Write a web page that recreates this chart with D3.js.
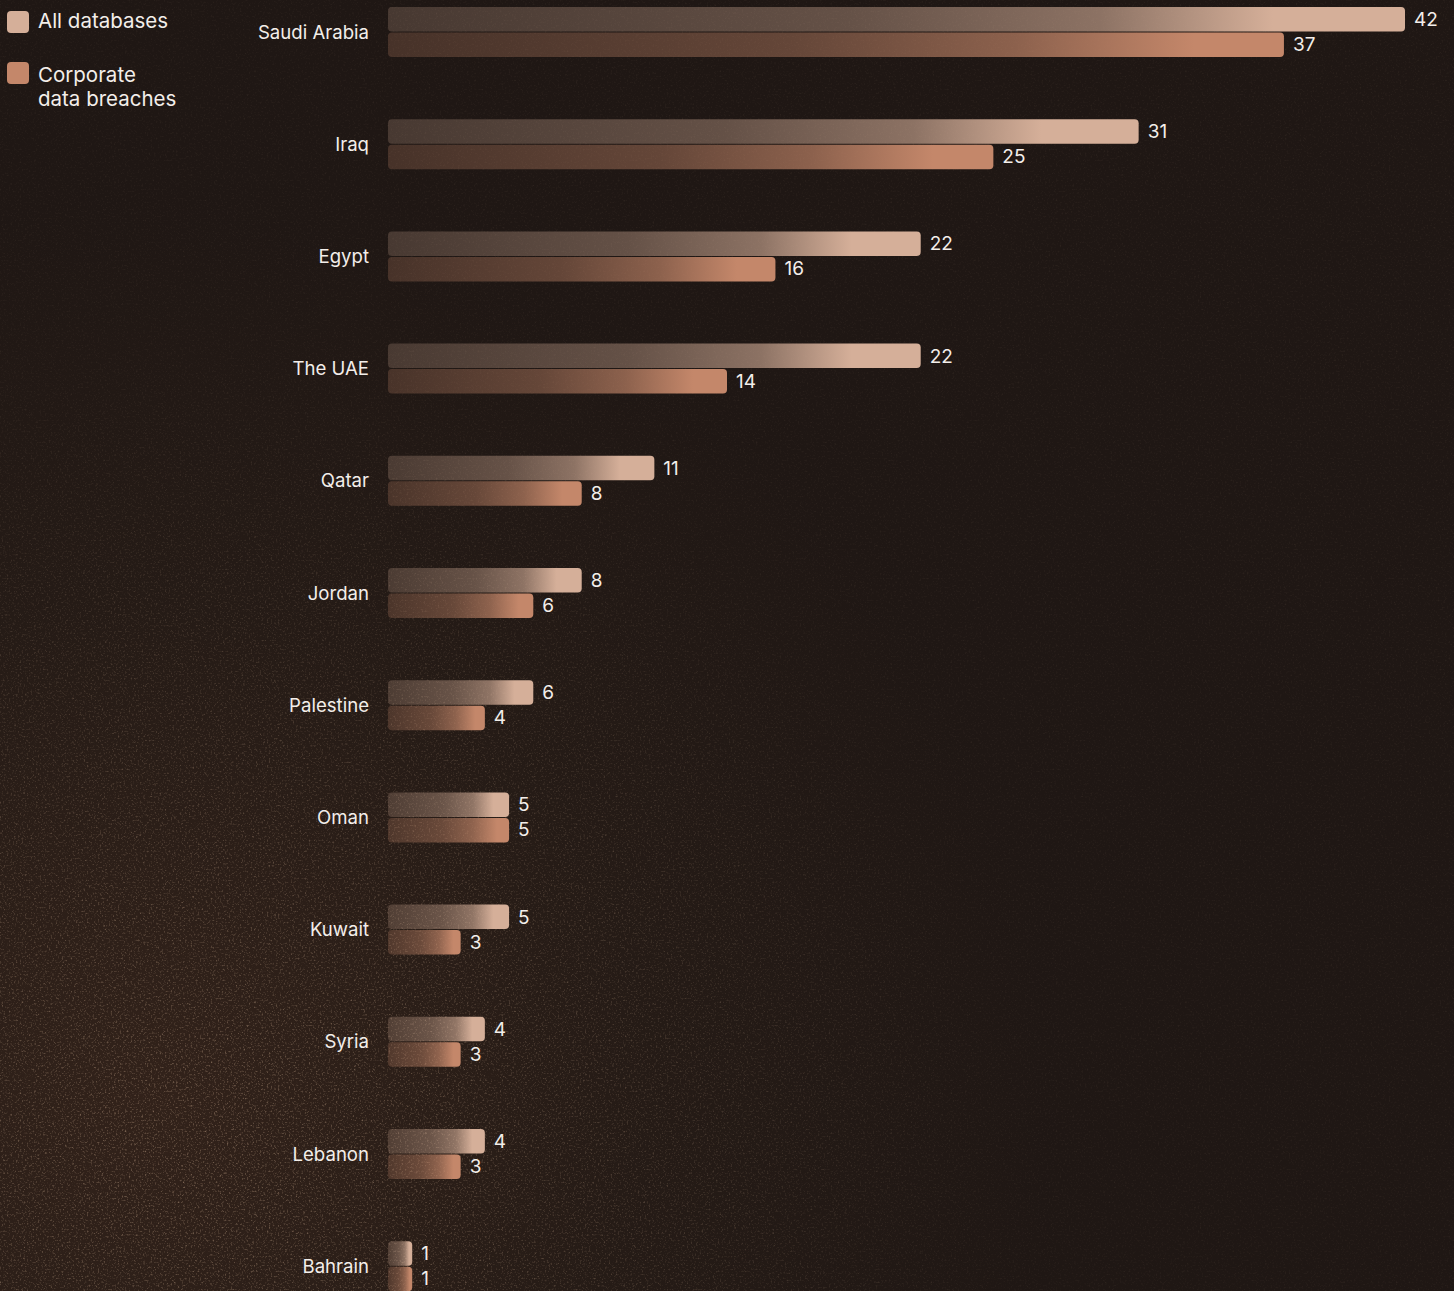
<!DOCTYPE html>
<html>
<head>
<meta charset="utf-8">
<script src="https://cdn.jsdelivr.net/npm/d3@7"></script>
<style>
  html, body { margin: 0; padding: 0; background: #201814; }
  svg { display: block; }
  text { font-family: Inter, "Noto Sans", sans-serif; }
</style>
</head>
<body>
<svg id="chart" width="1454" height="1291"></svg>
<script>
const countries = ["Saudi Arabia", "Iraq", "Egypt", "The UAE", "Qatar", "Jordan", "Palestine", "Oman", "Kuwait", "Syria", "Lebanon", "Bahrain"];
const allDatabases = [42, 31, 22, 22, 11, 8, 6, 5, 5, 4, 4, 1];
const corporateBreaches = [37, 25, 16, 14, 8, 6, 4, 5, 3, 3, 3, 1];
const seriesNames = ["All databases", "Corporate\ndata breaches"];
const seriesKeys = ["all", "corp"];

const W = 1454, H = 1291;
const svg = d3.select("#chart");
const defs = svg.append("defs");

// Background
const bg = defs.append("radialGradient").attr("id", "bgGrad")
  .attr("gradientUnits", "userSpaceOnUse").attr("cx", 150).attr("cy", 1100).attr("r", 900);
bg.append("stop").attr("offset", 0).attr("stop-color", "#32221a");
bg.append("stop").attr("offset", 0.55).attr("stop-color", "#251b16");
bg.append("stop").attr("offset", 1).attr("stop-color", "#1f1714");
svg.append("rect").attr("width", W).attr("height", H).attr("fill", "url(#bgGrad)");

// subtle grain texture
const f = defs.append("filter").attr("id", "grain").attr("x", 0).attr("y", 0).attr("width", "100%").attr("height", "100%");
f.append("feTurbulence").attr("type", "fractalNoise").attr("baseFrequency", 0.55).attr("numOctaves", 2).attr("seed", 3).attr("result", "n");
f.append("feColorMatrix").attr("in", "n").attr("type", "matrix")
  .attr("values", "0 0 0 0 0.75  0 0 0 0 0.52  0 0 0 0 0.35  0 0 0 2.2 -1.2");
const mask = defs.append("radialGradient").attr("id", "grainMask")
  .attr("gradientUnits", "userSpaceOnUse").attr("cx", 200).attr("cy", 1150).attr("r", 800);
mask.append("stop").attr("offset", 0).attr("stop-color", "#fff").attr("stop-opacity", 0.95);
mask.append("stop").attr("offset", 1).attr("stop-color", "#fff").attr("stop-opacity", 0.15);
defs.append("mask").attr("id", "gm").append("rect").attr("width", W).attr("height", H).attr("fill", "url(#grainMask)");
svg.append("rect").attr("width", W).attr("height", H).attr("filter", "url(#grain)").attr("mask", "url(#gm)").attr("opacity", 0.6);

// Bar gradients
const colors = { all: "#d5af99", corp: "#c4876a" };
function grad(id, c, stops) {
  const g = defs.append("linearGradient").attr("id", id).attr("x1", 0).attr("x2", 1).attr("y1", 0).attr("y2", 0);
  stops.forEach(([o, a]) => g.append("stop").attr("offset", o).attr("stop-color", c).attr("stop-opacity", a));
}
grad("g-all", colors.all, [[0, 0.22], [0.45, 0.38], [0.7, 0.6], [0.87, 1], [1, 1]]);
grad("g-corp", colors.corp, [[0, 0.24], [0.45, 0.42], [0.7, 0.66], [0.9, 1], [1, 1]]);

// Scales
const x = d3.scaleLinear().domain([0, 42]).range([388, 1405]);
const step = 112.2;
const y = d3.scaleBand().domain(countries).range([7, 7 + countries.length * step]).padding(0);
const ySub = d3.scaleBand().domain(seriesKeys).range([0, 50]).padding(0);

const data = countries.map((c, i) => ({ country: c, all: allDatabases[i], corp: corporateBreaches[i] }));

const groups = svg.append("g").selectAll("g").data(data).join("g")
  .attr("transform", d => `translate(0,${y(d.country)})`);

groups.append("text")
  .attr("x", 369).attr("y", 24.5)
  .attr("text-anchor", "end").attr("dominant-baseline", "central")
  .attr("fill", "#f3eeea").attr("font-size", 18.6)
  .text(d => d.country);

seriesKeys.forEach(k => {
  groups.append("rect")
    .attr("x", x(0))
    .attr("y", ySub(k) + (k === "corp" ? 0.5 : 0))
    .attr("width", d => x(d[k]) - x(0))
    .attr("height", ySub.bandwidth() - 0.5)
    .attr("rx", 4).attr("ry", 4)
    .attr("fill", `url(#g-${k})`);
  groups.append("text")
    .attr("x", d => x(d[k]) + 9)
    .attr("y", ySub(k) + ySub.bandwidth() / 2)
    .attr("dominant-baseline", "central")
    .attr("fill", "#f3eeea").attr("font-size", 19)
    .text(d => d[k]);
});

// Legend
const legend = svg.append("g");
const legendY = [11, 62];
const legendTextY = [20, 74];
seriesKeys.forEach((k, i) => {
  legend.append("rect").attr("x", 7).attr("y", legendY[i]).attr("width", 22).attr("height", 22)
    .attr("rx", 4).attr("fill", colors[k]);
  const lines = seriesNames[i].split("\n");
  const t = legend.append("text").attr("x", 38).attr("y", legendTextY[i])
    .attr("dominant-baseline", "central").attr("fill", "#f3eeea").attr("font-size", 20.5);
  lines.forEach((l, j) => t.append("tspan").attr("x", 38).attr("dy", j === 0 ? 0 : 24).text(l));
});
</script>
</body>
</html>
